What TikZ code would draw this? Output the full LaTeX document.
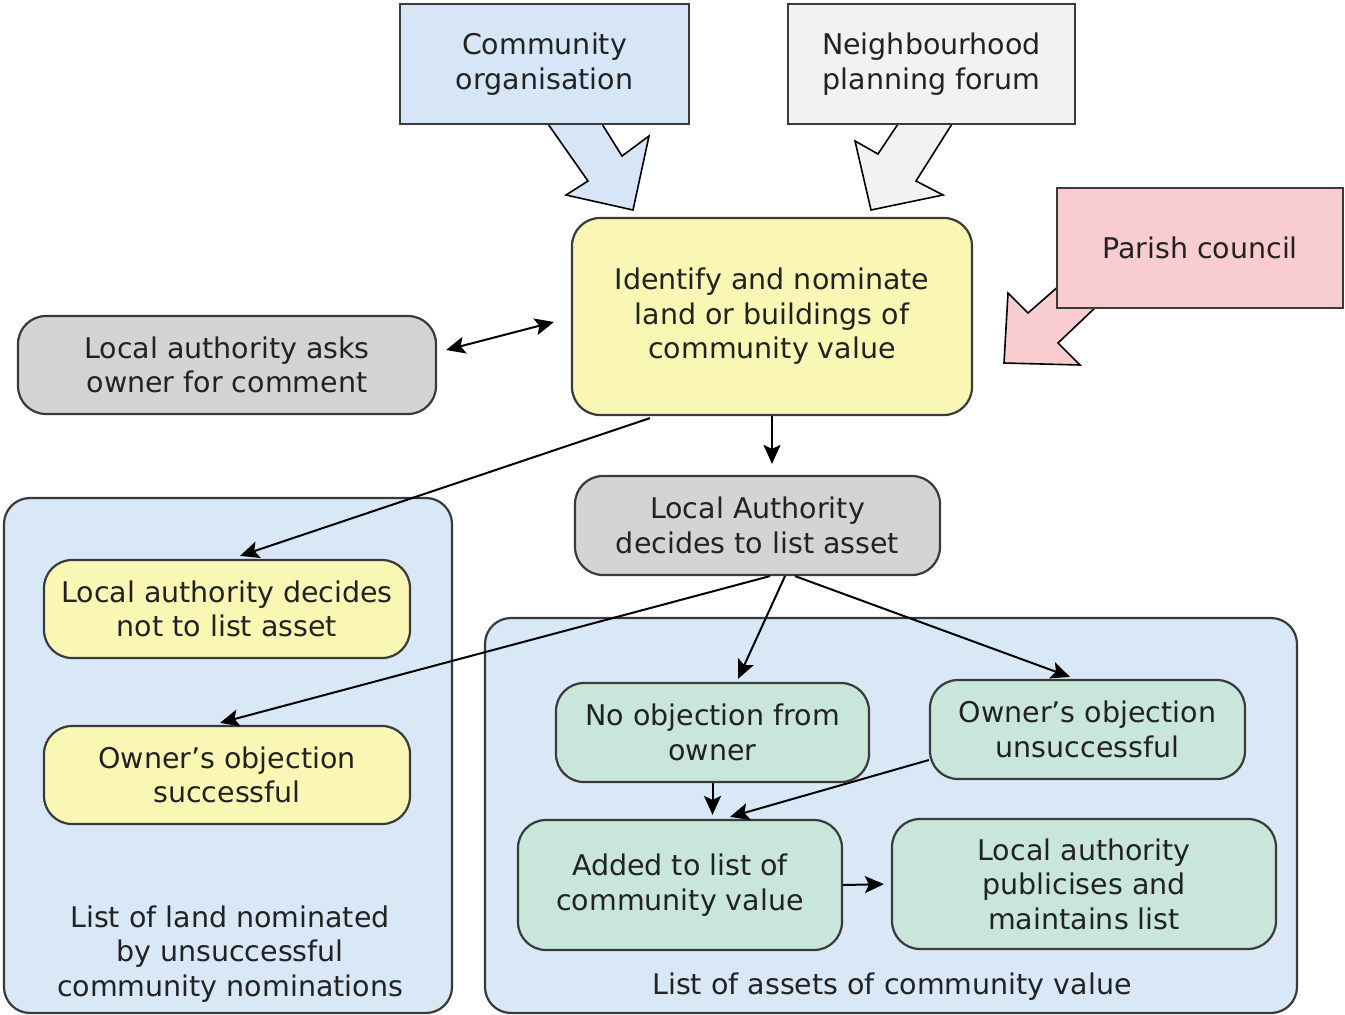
\documentclass[tikz,border=0pt]{standalone}
\usepackage{fontspec}
\setmainfont{DejaVu Sans}
\usetikzlibrary{arrows.meta,calc}
\definecolor{cblue}{HTML}{D6E6F6}
\definecolor{cgrayl}{HTML}{F2F2F2}
\definecolor{cpink}{HTML}{F9CCD0}
\definecolor{cyel}{HTML}{FAF6B4}
\definecolor{cgray}{HTML}{D4D4D4}
\definecolor{cgreen}{HTML}{C8E6D9}
\definecolor{ccont}{HTML}{D9E8F7}
\definecolor{cline}{HTML}{3A3A3A}
\definecolor{ctext}{HTML}{222222}
\begin{document}
\begin{tikzpicture}[x=1pt,y=-1pt,
  txt/.style={font=\fontsize{28.5}{34.5}\selectfont, text=ctext, align=center},
  sq/.style={txt, draw=cline, line width=2.2pt, inner sep=0pt},
  rbox/.style={sq, rounded corners=28pt},
  cont/.style={draw=cline, line width=2.2pt, fill=ccont, rounded corners=26pt, inner sep=0pt},
  fat/.style={draw=black, line width=1.6pt, line join=miter},
  arr/.style={draw=black, line width=2pt, -{Stealth[length=19pt,width=17pt,inset=4pt]}},
  darr/.style={draw=black, line width=2pt, {Stealth[length=19pt,width=17pt,inset=4pt]}-{Stealth[length=19pt,width=17pt,inset=4pt]}}]
\useasboundingbox (0,0) rectangle (1345,1015);
\fill[white] (0,0) rectangle (1345,1015);

% containers
\node[cont, minimum width=448pt, minimum height=515pt] (lcont) at (228,755.5) {};
\node[cont, minimum width=812pt, minimum height=395pt] (rcont) at (891,815.5) {};
\node[txt] (llab) at (230,954) {List of land nominated\\by unsuccessful\\community nominations};
\node[txt] (rlab) at (892,987) {List of assets of community value};

% fat arrows
\draw[fat, fill=cblue] (548,124) -- (602,124) -- (622,156) -- (649,136) -- (633,210) -- (566,195) -- (588,181) -- cycle;
\draw[fat, fill=cgrayl] (898,124) -- (952,124) -- (916,181) -- (943,195) -- (871,210) -- (855,141) -- (878,154) -- cycle;
\draw[fat, fill=cpink] (1060,285) -- (1098,305) -- (1058,343) -- (1080,365) -- (1004,363) -- (1008,293) -- (1028,313) -- cycle;

% top boxes
\node[sq, fill=cblue, minimum width=289pt, minimum height=120pt] (co) at (544.5,64) {Community\\organisation};
\node[sq, fill=cgrayl, minimum width=287pt, minimum height=120pt] (npf) at (931.5,64) {Neighbourhood\\planning forum};
\node[sq, fill=cpink, minimum width=286pt, minimum height=120pt] (pc) at (1200,248) {Parish council};

% main nodes
\node[rbox, fill=cyel, minimum width=400pt, minimum height=197pt] (id) at (772,316.5) {Identify and nominate\\land or buildings of\\community value};
\node[rbox, fill=cgray, minimum width=418pt, minimum height=98pt] (ask) at (227,365) {Local authority asks\\owner for comment};
\node[rbox, fill=cgray, minimum width=365pt, minimum height=99pt] (lad) at (757.5,525.5) {Local Authority\\decides to list asset};
\node[rbox, fill=cyel, minimum width=366pt, minimum height=98pt] (not) at (227,609) {Local authority decides\\not to list asset};
\node[rbox, fill=cyel, minimum width=366pt, minimum height=98pt] (oos) at (227,775) {Owner’s objection\\successful};
\node[rbox, fill=cgreen, minimum width=313pt, minimum height=99pt] (noo) at (712.5,732.5) {No objection from\\owner};
\node[rbox, fill=cgreen, minimum width=315pt, minimum height=99pt] (oou) at (1087.5,729.5) {Owner’s objection\\unsuccessful};
\node[rbox, fill=cgreen, minimum width=324pt, minimum height=130pt] (add) at (680,885) {Added to list of\\community value};
\node[rbox, fill=cgreen, minimum width=384pt, minimum height=130pt] (pub) at (1084,884) {Local authority\\publicises and\\maintains list};

% connectors
\draw[darr] ([xshift=9pt,yshift=15pt]ask.east) -- ([xshift=-17pt,yshift=-5.5pt]id.west);
\draw[arr, shorten >=11pt] (id.south) -- (id.south |- lad.north);
\draw[arr] ([xshift=-122pt,yshift=-2pt]id.south) -- ([xshift=13pt,yshift=3pt]not.north);
\draw[arr] ([xshift=12.5pt]lad.south) -- ([xshift=-7pt,yshift=2pt]oos.north);
\draw[arr] ([xshift=27.5pt]lad.south) -- ([xshift=25.5pt,yshift=3pt]noo.north);
\draw[arr] ([xshift=37.5pt]lad.south) -- ([xshift=-17.5pt,yshift=2pt]oou.north);
\draw[arr, shorten >=4pt] (noo.south) -- (noo.south |- add.north);
\draw[arr] ([yshift=-30.5pt]oou.west) -- ([xshift=50pt,yshift=2pt]add.north);
\draw[arr, shorten >=7pt] (add.east) -- (pub.west);
\end{tikzpicture}
\end{document}
